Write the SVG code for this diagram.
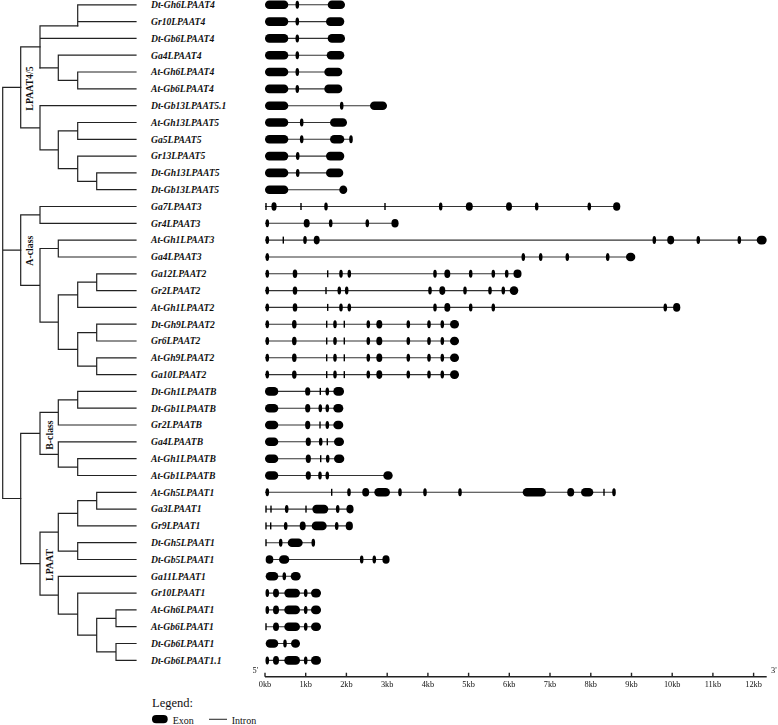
<svg xmlns="http://www.w3.org/2000/svg" width="778" height="725" viewBox="0 0 778 725">
<style>
.t{stroke:#222;stroke-width:1.2;fill:none;stroke-linecap:square}
.lab{font-family:"Liberation Serif",serif;font-weight:bold;font-style:italic;font-size:9.6px;fill:#111}
.cl{font-family:"Liberation Serif",serif;font-weight:bold;font-size:9.8px;fill:#111}
.g{fill:#000}
.in{stroke:#333;stroke-width:1.1;fill:none}
.ax{font-family:"Liberation Serif",serif;font-size:8.3px;fill:#111}
.lg{font-family:"Liberation Serif",serif;fill:#111}
</style>
<defs>
<ellipse id="s" cx="0" cy="0" rx="1.8" ry="4"/>
<rect id="k" x="-0.7" y="-3.5" width="1.4" height="7"/>
<filter id="gray" x="-5%" y="-20%" width="110%" height="140%"><feColorMatrix type="saturate" values="0"/></filter>
</defs>
<g id="tree" class="t">
<path d="M77.7 4.8V25.8M77.7 4.8H136M77.7 21.6H136"/>
<path d="M40 25.8H77.7M40 25.8V67.8M40 38.4H136"/>
<path d="M58.3 55.2V80.4M58.3 55.2H136M40 67.8H58.3M77.7 72V88.9M58.3 80.4H77.7M77.7 72H136M77.7 88.9H136"/>
<path d="M20.7 46.8H40M20.7 46.8V127.8M20.7 127.8H40M40 105.7V149.8M40 105.7H136M40 149.8H58.3M58.3 130.9V168.7M58.3 130.9H77.7M77.7 122.5V139.3M77.7 122.5H136M77.7 139.3H136M58.3 168.7H77.7M77.7 156.1V181.3M77.7 156.1H136M77.7 181.3H96.7M96.7 172.9V189.7M96.7 172.9H136M96.7 189.7H136"/>
<path d="M2.7 87.3H20.7M2.7 87.3V498.5M2.7 250.1H20.7M2.7 498.5H20.7"/>
<path d="M20.7 214.9V285.3M20.7 214.9H40M40 206.5V223.3M40 206.5H136M40 223.3H136M20.7 285.3H40M40 248.5V322.1M40 248.5H58.3M58.3 240.1V257M58.3 240.1H136M58.3 257H136M40 322.1H58.3M58.3 294.8V349.4M58.3 294.8H77.7M77.7 282.2V307.4M77.7 282.2H96.7M96.7 273.8V290.6M96.7 273.8H136M96.7 290.6H136M77.7 307.4H136M58.3 349.4H77.7M77.7 332.6V366.2M77.7 332.6H96.7M96.7 324.2V341M96.7 324.2H136M96.7 341H136M77.7 366.2H96.7M96.7 357.8V374.6M96.7 357.8H136M96.7 374.6H136"/>
<path d="M20.7 433.4V563.7M20.7 433.4H40M40 412.4V454.4M40 412.4H58.3M58.3 399.8V425M58.3 399.8H77.7M77.7 391.4V408.2M77.7 391.4H136M77.7 408.2H136M58.3 425H136M40 454.4H58.3M58.3 441.8V467.1M58.3 441.8H136M58.3 467.1H77.7M77.7 458.7V475.5M77.7 458.7H136M77.7 475.5H136"/>
<path d="M20.7 563.7H40M40 532.2V595.2M40 532.2H58.3M58.3 513.3V551.1M58.3 513.3H77.7M77.7 500.7V525.9M77.7 500.7H96.7M96.7 492.3V509.1M96.7 492.3H136M96.7 509.1H136M77.7 525.9H136M58.3 551.1H77.7M77.7 542.7V559.5M77.7 542.7H136M77.7 559.5H136M40 595.2H58.3M58.3 576.3V614.1M58.3 576.3H136M58.3 614.1H77.7M77.7 593.1V635.1M77.7 593.1H136M77.7 635.1H96.7M96.7 618.3V651.9M96.7 618.3H116M116 609.9V626.7M116 609.9H136M116 626.7H136M96.7 651.9H116M116 643.5V660.4M116 643.5H136M116 660.4H136"/>
</g>
<g id="clades" class="cl" text-anchor="middle" dominant-baseline="central">
<text transform="translate(29.5 88.5) rotate(-90)">LPAAT4/5</text>
<text transform="translate(29.5 250.7) rotate(-90)">A-class</text>
<text transform="translate(49 435) rotate(-90)">B-class</text>
<text transform="translate(49 565) rotate(-90)">LPAAT</text>
</g>
<g id="labels" class="lab">
<text x="151" y="8.1">Dt-Gh6LPAAT4</text>
<text x="151" y="24.9">Gr10LPAAT4</text>
<text x="151" y="41.7">Dt-Gb6LPAAT4</text>
<text x="151" y="58.5">Ga4LPAAT4</text>
<text x="151" y="75.3">At-Gh6LPAAT4</text>
<text x="151" y="92.2">At-Gb6LPAAT4</text>
<text x="151" y="109">Dt-Gb13LPAAT5.1</text>
<text x="151" y="125.8">At-Gh13LPAAT5</text>
<text x="151" y="142.6">Ga5LPAAT5</text>
<text x="151" y="159.4">Gr13LPAAT5</text>
<text x="151" y="176.2">Dt-Gh13LPAAT5</text>
<text x="151" y="193">Dt-Gb13LPAAT5</text>
<text x="151" y="209.8">Ga7LPAAT3</text>
<text x="151" y="226.6">Gr4LPAAT3</text>
<text x="151" y="243.4">At-Gh1LPAAT3</text>
<text x="151" y="260.3">Ga4LPAAT3</text>
<text x="151" y="277.1">Ga12LPAAT2</text>
<text x="151" y="293.9">Gr2LPAAT2</text>
<text x="151" y="310.7">At-Gh1LPAAT2</text>
<text x="151" y="327.5">Dt-Gh9LPAAT2</text>
<text x="151" y="344.3">Gr6LPAAT2</text>
<text x="151" y="361.1">At-Gh9LPAAT2</text>
<text x="151" y="377.9">Ga10LPAAT2</text>
<text x="151" y="394.7">Dt-Gh1LPAATB</text>
<text x="151" y="411.5">Dt-Gb1LPAATB</text>
<text x="151" y="428.3">Gr2LPAATB</text>
<text x="151" y="445.1">Ga4LPAATB</text>
<text x="151" y="462">At-Gh1LPAATB</text>
<text x="151" y="478.8">At-Gb1LPAATB</text>
<text x="151" y="495.6">At-Gh5LPAAT1</text>
<text x="151" y="512.4">Ga3LPAAT1</text>
<text x="151" y="529.2">Gr9LPAAT1</text>
<text x="151" y="546">Dt-Gh5LPAAT1</text>
<text x="151" y="562.8">Dt-Gb5LPAAT1</text>
<text x="151" y="579.6">Ga11LPAAT1</text>
<text x="151" y="596.4">Gr10LPAAT1</text>
<text x="151" y="613.2">At-Gh6LPAAT1</text>
<text x="151" y="630">At-Gb6LPAAT1</text>
<text x="151" y="646.8">Dt-Gb6LPAAT1</text>
<text x="151" y="663.7">Dt-Gb6LPAAT1.1</text>
</g>
<g id="genes" class="g">
<g id="gene1" transform="translate(0 4.8)"><path class="in" d="M265 0H345"/><rect x="265" y="-4.3" width="23.3" height="8.6" rx="4.3"/><use href="#s" x="297.3"/><rect x="327.7" y="-4.3" width="17.3" height="8.6" rx="4.3"/></g>
<g id="gene2" transform="translate(0 21.6)"><path class="in" d="M265 0H344"/><rect x="265" y="-4.3" width="23.3" height="8.6" rx="4.3"/><use href="#s" x="297.3"/><rect x="326" y="-4.3" width="18.3" height="8.6" rx="4.3"/></g>
<g id="gene3" transform="translate(0 38.4)"><path class="in" d="M265 0H345"/><rect x="265" y="-4.3" width="23.3" height="8.6" rx="4.3"/><use href="#s" x="297.3"/><rect x="327.7" y="-4.3" width="17.3" height="8.6" rx="4.3"/></g>
<g id="gene4" transform="translate(0 55.2)"><path class="in" d="M265 0H344"/><rect x="265" y="-4.3" width="23.3" height="8.6" rx="4.3"/><use href="#s" x="297.3"/><rect x="326.7" y="-4.3" width="17.6" height="8.6" rx="4.3"/></g>
<g id="gene5" transform="translate(0 72)"><path class="in" d="M265 0H342"/><rect x="265" y="-4.3" width="23.3" height="8.6" rx="4.3"/><use href="#s" x="297.3"/><rect x="324.3" y="-4.3" width="18" height="8.6" rx="4.3"/></g>
<g id="gene6" transform="translate(0 88.9)"><path class="in" d="M265 0H342"/><rect x="265" y="-4.3" width="23.3" height="8.6" rx="4.3"/><use href="#s" x="297.3"/><rect x="324.3" y="-4.3" width="18" height="8.6" rx="4.3"/></g>
<g id="gene7" transform="translate(0 105.7)"><path class="in" d="M265 0H387"/><rect x="265" y="-4.3" width="23.3" height="8.6" rx="4.3"/><use href="#s" x="341.7"/><rect x="370" y="-4.3" width="17" height="8.6" rx="4.3"/></g>
<g id="gene8" transform="translate(0 122.5)"><path class="in" d="M265 0H347"/><rect x="265" y="-4.3" width="23.3" height="8.6" rx="4.3"/><use href="#s" x="301.7"/><rect x="330" y="-4.3" width="17" height="8.6" rx="4.3"/></g>
<g id="gene9" transform="translate(0 139.3)"><path class="in" d="M265 0H351"/><rect x="265" y="-4.3" width="23.3" height="8.6" rx="4.3"/><use href="#s" x="301.7"/><rect x="330" y="-4.3" width="14.3" height="8.6" rx="4.3"/><use href="#s" x="351"/></g>
<g id="gene10" transform="translate(0 156.1)"><path class="in" d="M265 0H344"/><rect x="265" y="-4.3" width="23.3" height="8.6" rx="4.3"/><use href="#s" x="297.7"/><rect x="326" y="-4.3" width="18.3" height="8.6" rx="4.3"/></g>
<g id="gene11" transform="translate(0 172.9)"><path class="in" d="M265 0H343"/><rect x="265" y="-4.3" width="23.3" height="8.6" rx="4.3"/><use href="#s" x="297.7"/><rect x="326" y="-4.3" width="17.3" height="8.6" rx="4.3"/></g>
<g id="gene12" transform="translate(0 189.7)"><path class="in" d="M265 0H343"/><rect x="265" y="-4.3" width="23.3" height="8.6" rx="4.3"/><ellipse cx="343.3" rx="4" ry="4.3"/></g>
<g id="gene13" transform="translate(0 206.5)"><path class="in" d="M265 0H620"/><use href="#k" x="266"/><ellipse cx="274" rx="2.6" ry="4.2"/><use href="#k" x="301"/><use href="#s" x="326"/><use href="#k" x="385"/><use href="#s" x="440.7"/><ellipse cx="469.3" rx="3.5" ry="4.3"/><ellipse cx="509" rx="3" ry="4.3"/><use href="#s" x="536.7"/><use href="#s" x="589.3"/><ellipse cx="616.7" rx="3.6" ry="4.3"/></g>
<g id="gene14" transform="translate(0 223.3)"><path class="in" d="M265 0H398"/><use href="#s" x="267.3"/><ellipse cx="306.7" rx="3" ry="4.3"/><use href="#s" x="330.7"/><use href="#s" x="367.3"/><ellipse cx="395" rx="3.6" ry="4.3"/></g>
<g id="gene15" transform="translate(0 240.1)"><path class="in" d="M265 0H766"/><use href="#s" x="267.3"/><use href="#k" x="283.3"/><use href="#s" x="305"/><ellipse cx="316.7" rx="3" ry="4.3"/><use href="#s" x="654.3"/><ellipse cx="670.7" rx="3.5" ry="4.3"/><use href="#s" x="698.3"/><use href="#s" x="739.3"/><rect x="756.7" y="-4.3" width="10" height="8.6" rx="4.3"/></g>
<g id="gene16" transform="translate(0 257)"><path class="in" d="M265 0H635"/><use href="#s" x="267.3"/><use href="#s" x="523.3"/><use href="#s" x="540.7"/><use href="#s" x="567.3"/><use href="#s" x="607.7"/><rect x="626" y="-4.3" width="9.3" height="8.6" rx="4.3"/></g>
<g id="gene17" transform="translate(0 273.8)"><path class="in" d="M265 0H521"/><use href="#s" x="267.3"/><ellipse cx="295" rx="2.3" ry="4.2"/><use href="#k" x="327.7"/><use href="#s" x="341"/><use href="#s" x="349.3"/><use href="#s" x="435"/><ellipse cx="447.3" rx="3" ry="4.3"/><use href="#s" x="470.7"/><use href="#s" x="493.3"/><use href="#s" x="506.7"/><rect x="513.5" y="-4.3" width="8" height="8.6" rx="4"/></g>
<g id="gene18" transform="translate(0 290.6)"><path class="in" d="M265 0H518"/><use href="#s" x="267.3"/><ellipse cx="295" rx="2.3" ry="4.2"/><use href="#k" x="326"/><use href="#s" x="339.3"/><use href="#s" x="346.7"/><use href="#s" x="430"/><ellipse cx="442.3" rx="3" ry="4.3"/><use href="#s" x="465"/><use href="#s" x="490"/><use href="#s" x="503.3"/><rect x="509.7" y="-4.3" width="8.6" height="8.6" rx="4.3"/></g>
<g id="gene19" transform="translate(0 307.4)"><path class="in" d="M265 0H680"/><use href="#s" x="267.3"/><ellipse cx="295" rx="2.3" ry="4.2"/><use href="#k" x="327.7"/><use href="#s" x="341"/><use href="#s" x="349.3"/><use href="#s" x="435"/><ellipse cx="447.3" rx="3" ry="4.3"/><use href="#s" x="470.7"/><use href="#s" x="493.3"/><use href="#s" x="665.3"/><ellipse cx="676.7" rx="3.6" ry="4.3"/></g>
<g id="gene20" transform="translate(0 324.2)"><path class="in" d="M265 0H459"/><use href="#s" x="267.3"/><ellipse cx="294.3" rx="2.3" ry="4.2"/><use href="#k" x="326.7"/><use href="#s" x="335"/><use href="#k" x="344.3"/><use href="#s" x="368.3"/><ellipse cx="379.3" rx="3" ry="4.3"/><use href="#s" x="408.3"/><use href="#s" x="429"/><use href="#s" x="442.3"/><rect x="450" y="-4.3" width="9" height="8.6" rx="4.3"/></g>
<g id="gene21" transform="translate(0 341)"><path class="in" d="M265 0H459"/><use href="#s" x="267.3"/><ellipse cx="294.3" rx="2.3" ry="4.2"/><use href="#k" x="326.7"/><use href="#s" x="335"/><use href="#k" x="344.3"/><use href="#s" x="368.3"/><ellipse cx="379.3" rx="3" ry="4.3"/><use href="#s" x="408.3"/><use href="#s" x="429"/><use href="#s" x="442.3"/><rect x="450" y="-4.3" width="9" height="8.6" rx="4.3"/></g>
<g id="gene22" transform="translate(0 357.8)"><path class="in" d="M265 0H459"/><use href="#s" x="267.3"/><ellipse cx="294.3" rx="2.3" ry="4.2"/><use href="#k" x="326.7"/><use href="#s" x="335"/><use href="#k" x="344.3"/><use href="#s" x="368.3"/><ellipse cx="379.3" rx="3" ry="4.3"/><use href="#s" x="408.3"/><use href="#s" x="429"/><use href="#s" x="442.3"/><rect x="450" y="-4.3" width="9" height="8.6" rx="4.3"/></g>
<g id="gene23" transform="translate(0 374.6)"><path class="in" d="M265 0H459"/><use href="#s" x="267.3"/><ellipse cx="294.3" rx="2.3" ry="4.2"/><use href="#k" x="326.7"/><use href="#s" x="335"/><use href="#k" x="344.3"/><use href="#s" x="368.3"/><ellipse cx="379.3" rx="3" ry="4.3"/><use href="#s" x="408.3"/><use href="#s" x="429"/><use href="#s" x="442.3"/><rect x="450" y="-4.3" width="9" height="8.6" rx="4.3"/></g>
<g id="gene24" transform="translate(0 391.4)"><path class="in" d="M265 0H344"/><rect x="265" y="-4.3" width="13.3" height="8.6" rx="4.3"/><ellipse cx="307.7" rx="2.6" ry="4.2"/><use href="#k" x="320.3"/><use href="#s" x="327.3"/><rect x="333.3" y="-4.3" width="10.7" height="8.6" rx="4.3"/></g>
<g id="gene25" transform="translate(0 408.2)"><path class="in" d="M265 0H343"/><rect x="265" y="-4.3" width="13.3" height="8.6" rx="4.3"/><ellipse cx="307.7" rx="2.6" ry="4.2"/><use href="#s" x="320.3"/><use href="#s" x="327.3"/><rect x="333.3" y="-4.3" width="10" height="8.6" rx="4.3"/></g>
<g id="gene26" transform="translate(0 425)"><path class="in" d="M265 0H343"/><rect x="265" y="-4.3" width="13.3" height="8.6" rx="4.3"/><ellipse cx="307.7" rx="2.6" ry="4.2"/><use href="#k" x="320"/><use href="#s" x="327.3"/><rect x="333.3" y="-4.3" width="10" height="8.6" rx="4.3"/></g>
<g id="gene27" transform="translate(0 441.8)"><path class="in" d="M265 0H344"/><rect x="265" y="-4.3" width="13.3" height="8.6" rx="4.3"/><ellipse cx="308.3" rx="2.6" ry="4.2"/><use href="#s" x="320.7"/><use href="#k" x="327.3"/><rect x="334" y="-4.3" width="10" height="8.6" rx="4.3"/></g>
<g id="gene28" transform="translate(0 458.7)"><path class="in" d="M265 0H344"/><rect x="265" y="-4.3" width="13.3" height="8.6" rx="4.3"/><ellipse cx="308.3" rx="2.6" ry="4.2"/><use href="#k" x="320.7"/><use href="#s" x="327.7"/><rect x="334" y="-4.3" width="10.3" height="8.6" rx="4.3"/></g>
<g id="gene29" transform="translate(0 475.5)"><path class="in" d="M265 0H392"/><rect x="265" y="-4.3" width="13.3" height="8.6" rx="4.3"/><ellipse cx="308.3" rx="2.6" ry="4.2"/><use href="#s" x="320"/><use href="#s" x="327.3"/><rect x="383.3" y="-4.3" width="9.4" height="8.6" rx="4.3"/></g>
<g id="gene30" transform="translate(0 492.3)"><path class="in" d="M265 0H614"/><use href="#s" x="267.3"/><use href="#k" x="331.7"/><use href="#s" x="349"/><ellipse cx="365.7" rx="3.5" ry="4.3"/><rect x="374.3" y="-4.3" width="15.7" height="8.6" rx="4.3"/><use href="#s" x="400"/><use href="#s" x="425"/><use href="#s" x="460"/><rect x="522.7" y="-4.3" width="23.3" height="8.6" rx="4.3"/><ellipse cx="570.7" rx="3.5" ry="4.3"/><rect x="581" y="-4.3" width="12.3" height="8.6" rx="4.3"/><use href="#k" x="604"/><use href="#s" x="614"/></g>
<g id="gene31" transform="translate(0 509.1)"><path class="in" d="M266 0H350"/><use href="#k" x="266"/><use href="#k" x="271"/><use href="#s" x="286.7"/><use href="#k" x="306"/><rect x="312.3" y="-4.3" width="16" height="8.6" rx="4.3"/><use href="#s" x="337.7"/><ellipse cx="350" rx="3.6" ry="4.3"/></g>
<g id="gene32" transform="translate(0 525.9)"><path class="in" d="M266 0H349"/><use href="#k" x="266"/><use href="#k" x="270.7"/><use href="#s" x="285.7"/><ellipse cx="302.7" rx="3" ry="4.3"/><rect x="311.7" y="-4.3" width="15" height="8.6" rx="4.3"/><use href="#s" x="336.7"/><ellipse cx="349.3" rx="3.6" ry="4.3"/></g>
<g id="gene33" transform="translate(0 542.7)"><path class="in" d="M266 0H313"/><use href="#k" x="266"/><use href="#s" x="280.7"/><rect x="287.7" y="-4.3" width="15" height="8.6" rx="4.3"/><use href="#s" x="313.3"/></g>
<g id="gene34" transform="translate(0 559.5)"><path class="in" d="M266 0H386"/><rect x="265.7" y="-4.3" width="7.6" height="8.6" rx="3.8"/><rect x="279" y="-4.3" width="10.3" height="8.6" rx="4.3"/><use href="#s" x="361.7"/><use href="#s" x="374.3"/><ellipse cx="386" rx="3.6" ry="4.3"/></g>
<g id="gene35" transform="translate(0 576.3)"><path class="in" d="M266 0H300"/><rect x="265.7" y="-4.3" width="12.6" height="8.6" rx="4.3"/><use href="#s" x="284.3"/><rect x="290.7" y="-4.3" width="10" height="8.6" rx="4.3"/></g>
<g id="gene36" transform="translate(0 593.1)"><path class="in" d="M266 0H321"/><use href="#s" x="267.3"/><ellipse cx="276" rx="3" ry="4.3"/><rect x="284.3" y="-4.3" width="15.7" height="8.6" rx="4.3"/><use href="#s" x="305.7"/><rect x="311" y="-4.3" width="10" height="8.6" rx="4.3"/></g>
<g id="gene37" transform="translate(0 609.9)"><path class="in" d="M266 0H321"/><use href="#s" x="267.3"/><ellipse cx="276" rx="3" ry="4.3"/><rect x="284.3" y="-4.3" width="15.7" height="8.6" rx="4.3"/><use href="#s" x="305.7"/><rect x="311" y="-4.3" width="10" height="8.6" rx="4.3"/></g>
<g id="gene38" transform="translate(0 626.7)"><path class="in" d="M266 0H321"/><use href="#k" x="266"/><ellipse cx="276" rx="3" ry="4.3"/><rect x="284.3" y="-4.3" width="15.7" height="8.6" rx="4.3"/><use href="#s" x="305.7"/><rect x="311" y="-4.3" width="10" height="8.6" rx="4.3"/></g>
<g id="gene39" transform="translate(0 643.5)"><path class="in" d="M266 0H300"/><rect x="265.7" y="-4.3" width="12.6" height="8.6" rx="4.3"/><use href="#s" x="285"/><rect x="291" y="-4.3" width="9" height="8.6" rx="4.3"/></g>
<g id="gene40" transform="translate(0 660.4)"><path class="in" d="M266 0H321"/><use href="#s" x="267.3"/><ellipse cx="276" rx="3" ry="4.3"/><rect x="284.3" y="-4.3" width="15.7" height="8.6" rx="4.3"/><use href="#s" x="305.7"/><rect x="311" y="-4.3" width="10" height="8.6" rx="4.3"/></g>
</g>
<g id="axis">
<path d="M265 676.7H766.7M265 672.7V676.7M305.7 672.7V676.7M346.4 672.7V676.7M387.2 672.7V676.7M427.9 672.7V676.7M468.6 672.7V676.7M509.3 672.7V676.7M550 672.7V676.7M590.8 672.7V676.7M631.5 672.7V676.7M672.2 672.7V676.7M712.9 672.7V676.7M753.6 672.7V676.7" stroke="#222" stroke-width="1.4" fill="none"/>
<g class="ax" text-anchor="middle" filter="url(#gray)">
<text x="265" y="686.5">0kb</text><text x="305.7" y="686.5">1kb</text><text x="346.4" y="686.5">2kb</text><text x="387.2" y="686.5">3kb</text><text x="427.9" y="686.5">4kb</text><text x="468.6" y="686.5">5kb</text><text x="509.3" y="686.5">6kb</text><text x="550" y="686.5">7kb</text><text x="590.8" y="686.5">8kb</text><text x="631.5" y="686.5">9kb</text><text x="672.2" y="686.5">10kb</text><text x="712.9" y="686.5">11kb</text><text x="753.6" y="686.5">12kb</text>
</g>
<g class="ax" filter="url(#gray)">
<text x="252.5" y="672.5">5'</text>
<text x="771" y="673">3'</text>
</g>
</g>
<g id="legend">
<text class="lg" x="152" y="707" font-size="12.5">Legend:</text>
<rect x="152" y="715" width="15.7" height="8.3" rx="4.1" fill="#000"/>
<text class="lg" x="172.7" y="723.5" font-size="10">Exon</text>
<path d="M209 719.3H227" stroke="#333" stroke-width="1.1"/>
<text class="lg" x="231.7" y="723.5" font-size="10">Intron</text>
</g>
</svg>
